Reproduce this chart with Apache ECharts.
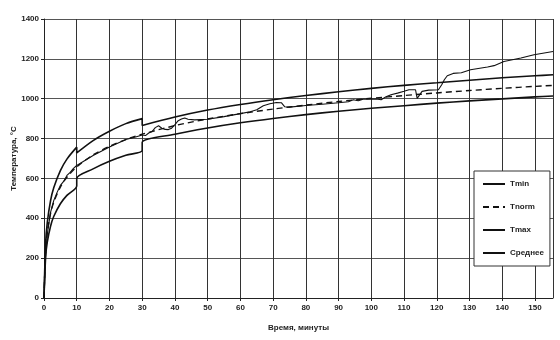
<!DOCTYPE html>
<html>
<head>
<meta charset="utf-8">
<script src="https://cdn.jsdelivr.net/npm/echarts@6/dist/echarts.min.js"></script>
<style>
  html, body { margin: 0; padding: 0; background: #fff; }
  #chart { width: 560px; height: 340px; }
</style>
</head>
<body>
<div id="chart"></div>
<script>
// Нормативная кривая пожара
const normTime = [0, 0.5, 1, 2, 3, 5, 7, 10, 15, 20, 25, 30, 40, 50, 60, 70, 80, 90, 100, 110, 120, 130, 140, 150, 155.5];
const normTemp = [0, 241, 329, 424, 482, 556, 606, 658, 718, 761, 795, 822, 865, 898, 925, 948, 968, 986, 1002, 1016, 1029, 1041, 1052, 1062, 1067];

// Границы допуска (скачки на 10 и 30 минутах)
const boundTime = [0, 0.5, 1, 2, 3, 5, 7, 10, 10, 15, 20, 25, 30, 30, 40, 50, 60, 70, 80, 90, 100, 110, 120, 130, 140, 150, 155.5];
const maxTemp = [0, 277, 378, 488, 554, 639, 697, 757, 728, 790, 837, 875, 900, 866, 908, 943, 971, 995, 1016, 1035, 1052, 1067, 1080, 1093, 1105, 1115, 1120];
const minTemp = [0, 205, 280, 360, 410, 473, 515, 562, 600, 648, 686, 716, 740, 781, 822, 853, 879, 901, 920, 937, 952, 965, 978, 989, 999, 1009, 1014];

// Средняя измеренная температура
const avgTime = [0, 0.5, 1, 2, 3, 4, 5, 6, 7, 8, 9, 10, 12, 15, 20, 25, 28, 30, 31, 32, 33, 34, 35, 36, 37, 38, 39, 40, 41, 42, 43, 44, 46, 50, 55, 60, 63, 65, 67, 69, 71, 72.5, 73.5, 75, 80, 85, 90, 93, 94.5, 96, 97.5, 100, 102, 103, 104.5, 106, 108, 110, 111.5, 113.5, 114, 115.5, 117.5, 120.5, 121.5, 122.3, 123.2, 125, 127.5, 130.3, 135.5, 137.5, 140.5, 145.7, 149.7, 155.5];
const avgTemp = [0, 220, 320, 430, 490, 530, 565, 585, 615, 630, 650, 665, 685, 715, 758, 795, 808, 818, 815, 828, 835, 855, 864, 852, 846, 845, 852, 870, 890, 898, 903, 897, 894, 897, 910, 925, 935, 945, 965, 975, 981, 980, 960, 958, 966, 972, 980, 985, 995, 990, 998, 998, 998, 995, 1010, 1020, 1028, 1037, 1045, 1045, 1002, 1037, 1043, 1045, 1070, 1095, 1115, 1127, 1130, 1145, 1159, 1166, 1187, 1204, 1221, 1237];

const xTicks = ['0', '10', '20', '30', '40', '50', '60', '70', '80', '90', '100', '110', '120', '130', '140', '150'];
const yTicks = ['0', '200', '400', '600', '800', '1000', '1200', '1400'];

const pairs = (xs, ys) => xs.map((x, i) => [x, ys[i]]);
const font = 'Liberation Sans, Arial, sans-serif';

const chart = echarts.init(document.getElementById('chart'));
chart.setOption({
  animation: false,
  backgroundColor: '#fff',
  textStyle: { fontFamily: font },
  grid: { left: 44, right: 7, top: 19, bottom: 42, containLabel: false, outerBoundsMode: 'none' },
  xAxis: {
    type: 'value', min: 0, max: 155.5, interval: 10,
    name: 'Время, минуты', nameLocation: 'middle', nameGap: 26, nameMoveOverlap: false,
    nameTextStyle: { fontSize: 8, fontWeight: 'bold', color: '#222', fontFamily: font },
    axisLine: { show: true, lineStyle: { color: '#222', width: 1 } },
    axisTick: { show: true, length: 3, lineStyle: { color: '#222' } },
    axisLabel: {
      fontSize: 8, fontWeight: 'bold', color: '#222', margin: 6, showMaxLabel: false,
      formatter: v => xTicks.includes(String(v)) ? String(v) : ''
    },
    splitLine: { show: true, lineStyle: { color: '#333', width: 1 } }
  },
  yAxis: {
    type: 'value', min: 0, max: 1400, interval: 200,
    name: 'Температура, °С', nameLocation: 'middle', nameGap: 26, nameMoveOverlap: false,
    nameTextStyle: { fontSize: 8, fontWeight: 'bold', color: '#222', fontFamily: font },
    axisLine: { show: true, lineStyle: { color: '#222', width: 1 } },
    axisTick: { show: true, length: 3, lineStyle: { color: '#222' } },
    axisLabel: {
      fontSize: 8, fontWeight: 'bold', color: '#222', margin: 5,
      formatter: v => yTicks.includes(String(v)) ? String(v) : ''
    },
    splitLine: { show: true, lineStyle: { color: '#555', width: 1 } }
  },
  legend: {
    orient: 'vertical', left: 474, top: 171,
    padding: [9, 6, 9, 8], itemGap: 15, itemWidth: 22, itemHeight: 10,
    backgroundColor: '#fff', borderColor: '#333', borderWidth: 1,
    itemStyle: { opacity: 0 },
    textStyle: { fontSize: 8, fontWeight: 'bold', color: '#222', fontFamily: font },
    data: ['Tmin', 'Tnorm', 'Tmax', 'Среднее']
  },
  series: [
    { name: 'Tmin', type: 'line', data: pairs(boundTime, minTemp), symbol: 'none', smooth: 0.3,
      lineStyle: { color: '#111', width: 1.6 }, itemStyle: { color: '#111' }, z: 3 },
    { name: 'Tnorm', type: 'line', data: pairs(normTime, normTemp), symbol: 'none', smooth: 0.3,
      lineStyle: { color: '#111', width: 1.4, type: [6, 4] }, itemStyle: { color: '#111' }, z: 3 },
    { name: 'Tmax', type: 'line', data: pairs(boundTime, maxTemp), symbol: 'none', smooth: 0.3,
      lineStyle: { color: '#111', width: 1.6 }, itemStyle: { color: '#111' }, z: 3 },
    { name: 'Среднее', type: 'line', data: pairs(avgTime, avgTemp), symbol: 'none',
      lineStyle: { color: '#111', width: 1.1 }, itemStyle: { color: '#111' }, z: 4 }
  ]
});
</script>
</body>
</html>
